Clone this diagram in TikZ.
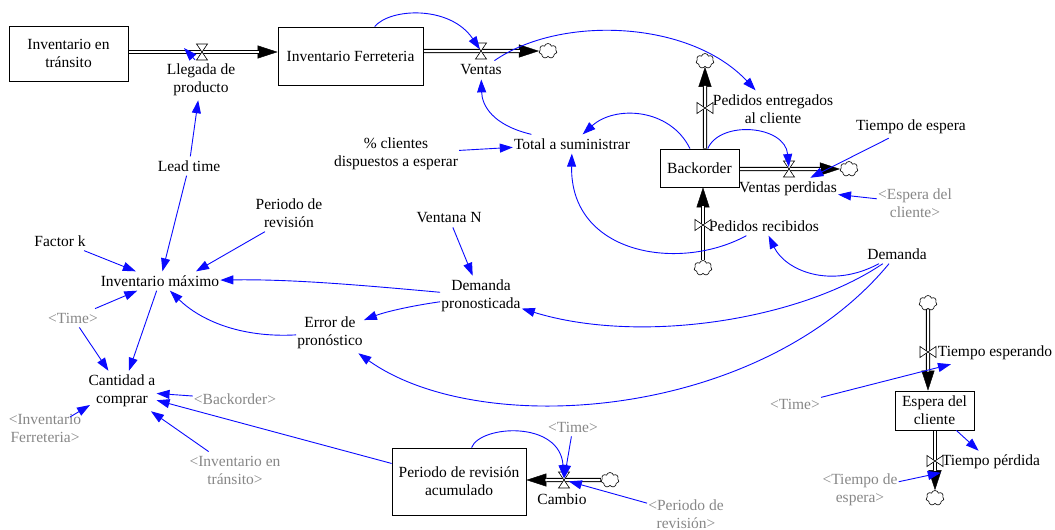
\documentclass[tikz,border=0pt]{standalone}
\usepackage{fontspec}
\setmainfont{Liberation Serif}
\usetikzlibrary{arrows.meta,shapes.symbols}

\definecolor{linkblue}{RGB}{10,10,255}
\definecolor{shadowgray}{RGB}{135,135,135}

\begin{document}
\begin{tikzpicture}[x=1pt,y=-1pt,
  every node/.style={font=\fontsize{15.5}{18}\selectfont, align=center, inner xsep=1pt, inner ysep=4pt},
  stock/.style={draw, line width=0.8pt, fill=white, inner sep=0pt},
  ghost/.style={text=shadowgray},
  conn/.style={draw=linkblue, line width=0.9pt, -{Triangle[length=13pt,width=9pt]}},
  pipe/.style={line width=4.4pt, -{Triangle[length=20pt,width=13pt,line width=0.4pt]},
    postaction={draw=white, line width=2pt, -, shorten >=19pt, shorten <=0.6pt}},
  cloudnode/.style={cloud, cloud puffs=7, aspect=1.25, draw, fill=white, line width=0.6pt,
    minimum width=18pt, minimum height=15pt, inner sep=0pt},
  valveh/.pic={\filldraw[fill=white, line width=0.6pt] (-5.5,-8) -- (5.5,-8) -- (-5.5,8) -- (5.5,8) -- cycle;},
  valvev/.pic={\filldraw[fill=white, line width=0.6pt] (-8,-5.5) -- (-8,5.5) -- (8,-5.5) -- (8,5.5) -- cycle;}
]
\useasboundingbox (0,0) rectangle (1055,530);

% stocks
\node[stock, minimum width=119pt, minimum height=55pt] (transito) at (68.5,53.5) {Inventario en\\tránsito};
\node[stock, minimum width=145pt, minimum height=58pt] (ferreteria) at (350.5,56) {Inventario Ferreteria};
\node[stock, minimum width=79pt, minimum height=38pt] (backorder) at (699.5,168) {Backorder};
\node[stock, minimum width=79pt, minimum height=39pt] (espera) at (934.5,410.5) {Espera del\\cliente};
\node[stock, minimum width=134pt, minimum height=67pt] (acumulado) at (459,481.5) {Periodo de revisión\\acumulado};

% valve positions
\coordinate (vll) at (202,52);
\coordinate (vve) at (481,51);
\coordinate (vpe) at (705,108);
\coordinate (vvp) at (789,169);
\coordinate (vpr) at (703,225);
\coordinate (vte) at (928,352);
\coordinate (vtp) at (935,461);
\coordinate (vca) at (564,480);

% sources and sinks
\node[cloudnode] (cve) at (548,51) {};
\node[cloudnode] (cpe) at (705,61) {};
\node[cloudnode] (cvp) at (849,169) {};
\node[cloudnode] (cpr) at (703,268) {};
\node[cloudnode] (cte) at (928,303) {};
\node[cloudnode] (ctp) at (935,498) {};
\node[cloudnode] (cca) at (610,480) {};

% flow names
\node (llegada) at (201,80) {Llegada de\\producto};
\node (ventas) at (481,70) {Ventas};
\node (pedent) at (773,109) {Pedidos entregados\\al cliente};
\node (ventasperd) at (788,189) {Ventas perdidas};
\node (pedrec) at (764,226) {Pedidos recibidos};
\node (tesperando) at (995,353) {Tiempo esperando};
\node (tperdida) at (991,462) {Tiempo pérdida};
\node (cambio) at (562,499) {Cambio};

% auxiliaries
\node (leadtime) at (189,166) {Lead time};
\node (perrev) at (289,213) {Periodo de\\revisión};
\node (factork) at (60,241) {Factor k};
\node (invmax) at (160,281) {Inventario máximo};
\node[ghost] (time1) at (73,318) {<Time>};
\node (cantidad) at (122,391) {Cantidad a\\comprar};
\node[ghost] (invferrg) at (45,428) {<Inventario\\Ferreteria>};
\node[ghost] (backg) at (235,399) {<Backorder>};
\node[ghost] (invtransg) at (235,470) {<Inventario en\\tránsito>};
\node (error) at (330,333) {Error de\\pronóstico};
\node (dempron) at (481,296) {Demanda\\pronosticada};
\node (ventanan) at (449,218) {Ventana N};
\node (pct) at (396,154) {\% clientes\\dispuestos a esperar};
\node (total) at (572,144) {Total a suministrar};
\node (tespera) at (911,127) {Tiempo de espera};
\node[ghost] (esperag) at (915,203) {<Espera del\\cliente>};
\node (demanda) at (897,254) {Demanda};
\node[ghost] (time2) at (795,404) {<Time>};
\node[ghost] (tesperag) at (860,490) {<Tiempo de\\espera>};
\node[ghost] (time3) at (573,427) {<Time>};
\node[ghost] (perrevg) at (686,514) {<Periodo de\\revisión>};

% pipes
\draw[pipe] (transito.east |- vll) -- (ferreteria.west |- vll);
\draw[pipe] (ferreteria.east |- vve) -- (cve);
\draw[pipe] (backorder.north -| vpe) -- (cpe);
\draw[pipe] (backorder.east |- vvp) -- (cvp);
\draw[pipe] (cpr) -- (backorder.south -| vpr);
\draw[pipe] (cte) -- (espera.north -| vte);
\draw[pipe] (espera.south -| vtp) -- (ctp);
\draw[pipe] (cca) -- (acumulado.east |- vca);

% valves
\pic at (vll) {valveh};
\pic at (vve) {valveh};
\pic at (vvp) {valveh};
\pic at (vca) {valveh};
\pic at (vpe) {valvev};
\pic at (vpr) {valvev};
\pic at (vte) {valvev};
\pic at (vtp) {valvev};

% information links
\coordinate (stubtip) at (184,48);
\draw[conn] ([xshift=-6pt]llegada.north) -- (stubtip);
\draw[conn, shorten >=2pt] (ferreteria) .. controls (390,8) and (450,5) .. (vve);
\draw[conn] (ventas) .. controls (560,15) and (690,20) .. (pedent);
\draw[conn] (total) .. controls (492,125) and (482,105) .. (ventas);
\draw[conn] (pct) -- (total);
\draw[conn] (backorder) .. controls (670,108) and (615,105) .. (total);
\draw[conn] (pedrec) .. controls (680,272) and (570,255) .. (total);
\draw[conn, shorten >=2pt] (backorder) .. controls (720,120) and (785,125) .. (vvp);
\draw[conn] (tespera) -- (ventasperd);
\draw[conn] (esperag) -- (ventasperd);
\draw[conn] (demanda) .. controls (830,290) and (785,270) .. (pedrec);
\draw[conn] (demanda) .. controls (800,320) and (640,345) .. (dempron);
\draw[conn] (demanda) .. controls (760,420) and (480,440) .. (error);
\draw[conn] (ventanan) -- (dempron);
\draw[conn] (dempron) .. controls (360,285) and (290,279) .. (invmax);
\draw[conn] (dempron) .. controls (410,306) and (385,312) .. (error);
\draw[conn] (error) .. controls (240,338) and (200,320) .. (invmax);
\draw[conn] (leadtime) -- (llegada);
\draw[conn] (leadtime) -- (invmax);
\draw[conn] ([xshift=-24pt]perrev.south) -- ([xshift=36pt]invmax.north);
\draw[conn] (factork) -- (invmax);
\draw[conn] (time1) -- (invmax);
\draw[conn] (time1) -- (cantidad);
\draw[conn] (invmax) -- (cantidad);
\draw[conn] (backg) -- (cantidad);
\draw[conn] (acumulado) -- (cantidad);
\draw[conn] (invtransg) -- (cantidad);
\coordinate (invferrfoot) at (70,417);
\coordinate (cantidadfoot) at (90,405);
\draw[conn] (invferrfoot) -- (cantidadfoot);
\draw[conn, shorten >=2pt] (acumulado) .. controls (480,425) and (560,420) .. (vca);
\draw[conn, shorten >=2pt] (time3) -- (vca);
\draw[conn, shorten >=5pt] (perrevg) -- (vca);
\draw[conn] (time2) -- (tesperando);
\draw[conn] (espera) -- (tperdida);
\draw[conn] (tesperag) -- (tperdida);
\end{tikzpicture}
\end{document}
